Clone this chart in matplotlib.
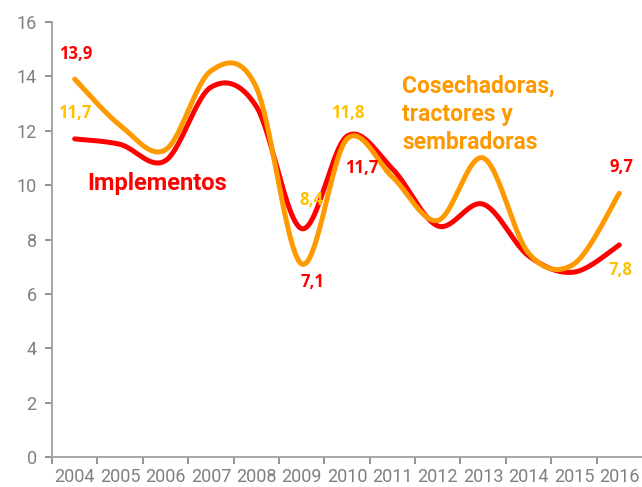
"""Participacion por tipo de maquinaria agricola, 2004-2016."""
import numpy as np
import matplotlib
matplotlib.use("Agg")
import matplotlib.pyplot as plt

years = ["2004", "2005", "2006", "2007", "2008", "2009", "2010",
         "2011", "2012", "2013", "2014", "2015", "2016"]
implementos = [11.7, 11.5, 10.9, 13.6, 12.9, 8.4, 11.8,
               10.6, 8.5, 9.3, 7.4, 6.8, 7.8]
cosechadoras = [13.9, 12.2, 11.3, 14.2, 13.6, 7.1, 11.7,
                10.3, 8.7, 11.0, 7.5, 7.1, 9.7]

RED = "#FF0000"
ORANGE = "#FF9900"
YELLOW = "#FFC000"
GRAY = "#808080"


def smooth(x, y, steps=30):
    """Catmull-Rom curve through the points, like a spreadsheet 'smoothed line'."""
    x = np.asarray(x, float)
    y = np.asarray(y, float)
    px = np.concatenate([[x[0]], x, [x[-1]]])
    py = np.concatenate([[y[0]], y, [y[-1]]])
    xs, ys = [], []
    t = np.linspace(0, 1, steps)
    for i in range(1, len(px) - 2):
        p0, p1, p2, p3 = (np.array([px[j], py[j]]) for j in range(i - 1, i + 3))
        c1 = p1 + (p2 - p0) / 6
        c2 = p2 - (p3 - p1) / 6
        pts = (((1 - t) ** 3)[:, None] * p1 + (3 * (1 - t) ** 2 * t)[:, None] * c1
               + (3 * (1 - t) * t ** 2)[:, None] * c2 + (t ** 3)[:, None] * p2)
        xs.extend(pts[:, 0])
        ys.extend(pts[:, 1])
    return np.array(xs), np.array(ys)


fig = plt.figure(figsize=(6.42, 4.87), dpi=100)
ax = fig.add_axes([0.081, 0.0616, 0.919, 0.8932])

idx = np.arange(len(years))
sx, sy = smooth(idx, implementos)
ax.plot(sx, sy, color=RED, lw=3.6, solid_capstyle="round", zorder=3)
sx, sy = smooth(idx, cosechadoras)
ax.plot(sx, sy, color=ORANGE, lw=3.6, solid_capstyle="round", zorder=4)

ax.set_xlim(-0.5, len(years) - 0.5)
ax.set_ylim(0, 16)
ax.set_yticks(range(0, 17, 2))
ax.set_xticks(idx)
ax.set_xticklabels(years)
ax.set_xticks(np.arange(-0.5, len(years) - 0.5, 1), minor=True)
ax.tick_params(axis="x", which="major", length=0, pad=8)
ax.tick_params(axis="x", which="minor", length=5, width=1.2, color=GRAY)
ax.tick_params(axis="y", length=5, width=1.2, color=GRAY, pad=6)
for lab in ax.get_xticklabels() + ax.get_yticklabels():
    lab.set_fontfamily("Roboto")
    lab.set_fontsize(13)
    lab.set_color(GRAY)

for side in ("top", "right"):
    ax.spines[side].set_visible(False)
for side in ("left", "bottom"):
    ax.spines[side].set_color("#A6A6A6")
    ax.spines[side].set_linewidth(1.4)

# data labels (colours as in the original chart)
labels = [
    (0, cosechadoras, RED, (1, 25)),
    (0, implementos, YELLOW, (0, 26)),
    (5, implementos, YELLOW, (10, 29)),
    (5, cosechadoras, RED, (11, -18)),
    (6, implementos, YELLOW, (1, 23)),
    (6, cosechadoras, RED, (15, -29)),
    (12, cosechadoras, RED, (2, 26)),
    (12, implementos, YELLOW, (1, -25)),
]
for i, series, col, off in labels:
    ax.annotate(f"{series[i]:.1f}".replace(".", ","), (i, series[i]),
                xytext=(off[0] * 0.72, off[1] * 0.72), textcoords="offset points",
                ha="center", va="center", color=col, fontsize=12,
                fontfamily="Open Sans", fontweight="bold", zorder=5)

ax.text(1.82, 10.07, "Implementos", color=RED, fontsize=17,
        fontfamily="Roboto", fontweight="bold", ha="center", va="center")
ax.text(7.22, 12.6, "Cosechadoras,\ntractores y\nsembradoras", color=ORANGE,
        fontsize=16.5, fontfamily="Roboto", fontweight="bold", ha="left",
        va="center", linespacing=1.27)

fig.savefig("out.png", dpi=100)
